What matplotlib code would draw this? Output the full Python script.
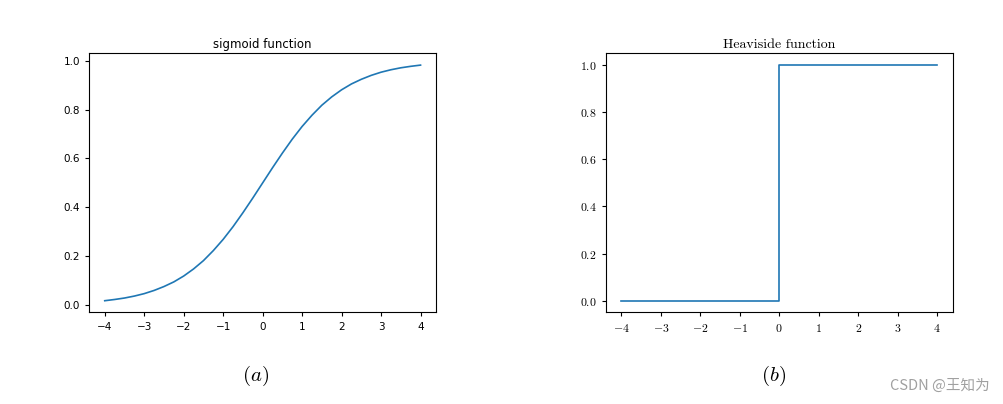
import matplotlib
matplotlib.use('Agg')
import matplotlib.pyplot as plt

plt.rcParams['mathtext.fontset'] = 'cm'

# sigmoid curve, values
sig_x = [-4.0, -3.75, -3.5, -3.25, -3.0, -2.75, -2.5, -2.25, -2.0, -1.75, -1.5, -1.25, -1.0,
         -0.75, -0.5, -0.25, 0.0, 0.25, 0.5, 0.75, 1.0, 1.25, 1.5, 1.75, 2.0, 2.25, 2.5,
         2.75, 3.0, 3.25, 3.5, 3.75, 4.0]
sig_y = [0.018, 0.023, 0.029, 0.037, 0.047, 0.060, 0.076, 0.095, 0.119, 0.148, 0.182, 0.223, 0.269,
         0.321, 0.378, 0.438, 0.500, 0.562, 0.622, 0.679, 0.731, 0.777, 0.818, 0.852, 0.881, 0.905,
         0.924, 0.940, 0.953, 0.963, 0.971, 0.977, 0.982]

# step function, right panel
step_x = [-4, 0, 0, 4]
step_y = [0, 0, 1, 1]

xticks = [-4, -3, -2, -1, 0, 1, 2, 3, 4]
yticks = [0.0, 0.2, 0.4, 0.6, 0.8, 1.0]

fig = plt.figure(figsize=(10.04, 4.04), dpi=100)
ax1 = fig.add_axes([0.0886, 0.2265, 0.3460, 0.6415])
ax2 = fig.add_axes([0.6031, 0.2265, 0.3460, 0.6415])

ax1.plot(sig_x, sig_y, color='#1f77b4', lw=1.2)
ax1.set_title('sigmoid function', fontsize=8.5, pad=4)
ax1.set_xticks(xticks)
ax1.set_yticks(yticks)
ax1.tick_params(labelsize=7.5, length=3)

ax2.plot(step_x, step_y, color='#1f77b4', lw=1.2)
ax2.set_title('Heaviside function', fontsize=10, pad=4, fontfamily='cmr10')
ax2.set_xticks(xticks)
ax2.set_xticklabels(['$%d$' % t for t in xticks])
ax2.set_yticks(yticks)
ax2.set_yticklabels(['$%.1f$' % t for t in yticks])
ax2.tick_params(labelsize=8.5, length=3)

for ax in (ax1, ax2):
    for s in ax.spines.values():
        s.set_linewidth(0.8)

fig.text(0.255, 0.07, '$(a)$', fontsize=15, ha='center', va='center')
fig.text(0.770, 0.07, '$(b)$', fontsize=15, ha='center', va='center')
fig.text(0.986, 0.045, 'CSDN @王知为', fontsize=10.5, color='#a0a0a0', ha='right', va='center',
         family=['Noto Sans CJK SC', 'DejaVu Sans'])

fig.savefig('out.png', dpi=100)
